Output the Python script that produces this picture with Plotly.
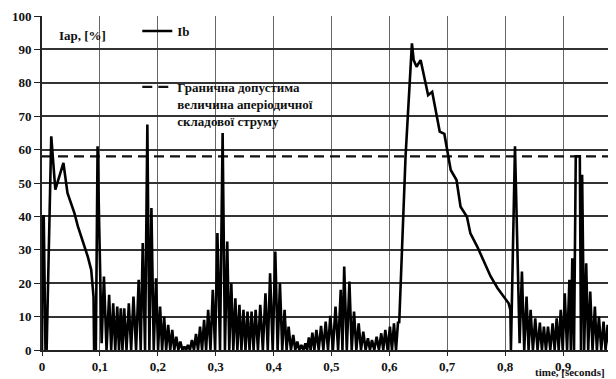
import plotly.graph_objects as go

# ---------------- data ----------------
# initial transient, 0 ... 0.103 s
segA_t = [0.000, 0.001, 0.003, 0.006, 0.008, 0.016, 0.023, 0.030, 0.037, 0.044,
          0.050, 0.056, 0.062, 0.070, 0.079, 0.085, 0.089, 0.090, 0.093, 0.096,
          0.103]
segA_v = [0, 40, 40, 0, 0, 64, 48, 52, 56, 47,
          44, 41, 37, 33, 28, 24, 16, 0, 0, 61,
          2]

# oscillating part 0.107 ... 0.615 s (peak, trough pairs)
osc1_t = [0.107, 0.1115, 0.116, 0.1195, 0.123, 0.1265, 0.130, 0.133, 0.136, 0.139,
          0.142, 0.146, 0.150, 0.154, 0.158, 0.1625, 0.167, 0.1705, 0.174, 0.178,
          0.182, 0.1855, 0.189, 0.193, 0.197, 0.2005, 0.204, 0.2075, 0.211, 0.2145,
          0.218, 0.2215, 0.225, 0.2285, 0.232, 0.2355, 0.239, 0.2425, 0.246, 0.249,
          0.252, 0.2555, 0.259, 0.2625, 0.266, 0.2695, 0.273, 0.2765, 0.280, 0.2835,
          0.287, 0.291, 0.295, 0.299, 0.303, 0.3075, 0.312, 0.316, 0.320, 0.3235,
          0.327, 0.3305, 0.334, 0.3375, 0.341, 0.3445, 0.348, 0.3515, 0.355, 0.3585,
          0.362, 0.3655, 0.369, 0.373, 0.377, 0.3815, 0.386, 0.390, 0.394, 0.3985,
          0.403, 0.407, 0.411, 0.415, 0.419, 0.4225, 0.426, 0.430, 0.434, 0.4375,
          0.441, 0.4445, 0.448, 0.4515, 0.455, 0.458, 0.461, 0.464, 0.467, 0.4705,
          0.474, 0.478, 0.482, 0.486, 0.490, 0.494, 0.498, 0.5025, 0.507, 0.5115,
          0.516, 0.519, 0.522, 0.5265, 0.531, 0.535, 0.539, 0.543, 0.547, 0.551,
          0.555, 0.559, 0.563, 0.5665, 0.570, 0.574, 0.578, 0.582, 0.586, 0.5895,
          0.593, 0.597, 0.601, 0.6045, 0.608, 0.6115, 0.615]
osc1_v = [22, 0, 16.5, 0, 14, 0, 13, 0, 12.5, 0,
          12.5, 0, 14, 0, 16, 0, 21, 0, 32, 0,
          67.5, 0, 42.5, 0, 21.5, 0, 13, 0, 10, 0,
          7.5, 0, 6, 0, 4, 0, 2.5, 0, 1, 0,
          1.5, 0, 3, 0, 4.8, 0, 7, 0, 9, 0,
          12, 0, 18, 0, 35, 0, 65, 0, 32.5, 0,
          20, 0, 15.5, 0, 13.5, 0, 12, 0, 11.5, 0,
          11.5, 0, 12, 0, 13.5, 0, 17, 0, 23, 0,
          29.5, 0, 20, 0, 12, 0, 7, 0, 4.5, 0,
          2.5, 0, 1.5, 0, 2, 0, 3.8, 0, 5.2, 0,
          6, 0, 7.2, 0, 8.5, 0, 10.2, 0, 13, 0,
          18, 0, 25, 0, 20.5, 0, 11.5, 0, 8, 0,
          5.5, 0, 3.5, 0, 3, 0, 4, 0, 5, 0,
          6, 0, 7, 0, 8, 0, 8.5]

# large aperiodic excursion 0.617 ... 0.825 s
peak_t = [0.617, 0.628, 0.639, 0.642, 0.647, 0.654, 0.660, 0.667, 0.674, 0.678,
          0.684, 0.687, 0.695, 0.700, 0.706, 0.716, 0.723, 0.734, 0.740, 0.752,
          0.764, 0.775, 0.787, 0.798, 0.806, 0.809, 0.810, 0.817, 0.825]
peak_v = [8, 58, 91.8, 86.8, 84.8, 86.8, 81.8, 76.3, 77.3, 73.9,
          67.9, 65.4, 64.7, 59.9, 53.9, 50.9, 42.9, 39.9, 34.9, 30.9,
          26, 22, 18.5, 16, 14, 12, 0, 61, 2]

# oscillating part 0.829 ... 0.991 s
osc2_t = [0.829, 0.833, 0.837, 0.8405, 0.844, 0.848, 0.852, 0.856, 0.860, 0.8635,
          0.867, 0.8705, 0.874, 0.878, 0.882, 0.8855, 0.889, 0.8925, 0.896, 0.8995,
          0.903, 0.907, 0.911, 0.9135, 0.916, 0.919, 0.922, 0.929, 0.931, 0.933,
          0.9365, 0.940, 0.9435, 0.947, 0.951, 0.955, 0.9585, 0.962, 0.966, 0.970,
          0.9735, 0.977, 0.9805, 0.984, 0.9875, 0.991]
osc2_v = [23.5, 0, 16, 0, 12, 0, 9.5, 0, 8.2, 0,
          7, 0, 7, 0, 8, 0, 9.5, 0, 12, 0,
          17, 0, 21, 0, 27.5, 0, 58, 58, 0, 52.5,
          0, 26, 0, 17.5, 0, 13, 0, 10, 0, 8.5,
          0, 7.5, 0, 6.5, 0, 5.5]

limit_t = [0.0, 0.9915]
limit_v = [58, 58]

x_tick_vals = [0, 0.1, 0.2, 0.3, 0.4, 0.5, 0.6, 0.7, 0.8, 0.9]
x_tick_text = ["0", "0,1", "0,2", "0,3", "0,4", "0,5", "0,6", "0,7", "0,8", "0,9"]
y_tick_vals = [0, 10, 20, 30, 40, 50, 60, 70, 80, 90, 100]

ib_t = segA_t + osc1_t + peak_t + osc2_t
ib_v = segA_v + osc1_v + peak_v + osc2_v

# ---------------- figure ----------------
SERIF = "Liberation Serif, Times New Roman, DejaVu Serif, serif"
INK = "#111111"

fig = go.Figure()
fig.add_trace(go.Scatter(
    x=limit_t, y=limit_v, mode="lines",
    name="Гранична допустима<br>величина аперіодичної<br>складової струму",
    line=dict(color=INK, width=2.2, dash="10px,6px"),
    legendgroup="b", legendrank=2,
))
fig.add_trace(go.Scatter(
    x=ib_t, y=ib_v, mode="lines", name="Ib",
    line=dict(color="#000000", width=2.6),
    legendgroup="a", legendrank=1,
))

# the page body adds an 8px offset; figure is sized so the plot lands on the reference pixels
fig.update_layout(
    width=608, height=371,
    margin=dict(l=34, r=0, t=8, b=29, pad=0),
    paper_bgcolor="white", plot_bgcolor="white",
    font=dict(family=SERIF, size=13, color=INK),
    showlegend=True,
    legend=dict(
        x=0.166, y=1.0, xanchor="left", yanchor="top",
        bgcolor="rgba(0,0,0,0)", borderwidth=0,
        font=dict(family=SERIF, size=13, color=INK, weight="bold"),
        traceorder="grouped", tracegroupgap=36, valign="top",
        itemwidth=30,
    ),
    xaxis=dict(
        range=[0, 0.9915], automargin=False,
        tickvals=x_tick_vals, ticktext=x_tick_text,
        showgrid=True, gridcolor="#666666", gridwidth=1,
        zeroline=False,
        showline=True, linecolor="#222222", linewidth=1.6,
        ticks="outside", ticklen=4, tickcolor="#222222", tickwidth=1.2,
        tickfont=dict(family=SERIF, size=13, color=INK, weight="bold"),
    ),
    yaxis=dict(
        range=[0, 100], automargin=False,
        tickvals=y_tick_vals,
        showgrid=True, gridcolor="#333333", gridwidth=1.5,
        zeroline=False,
        showline=True, linecolor="#222222", linewidth=1.6,
        ticks="outside", ticklen=6, tickcolor="#222222", tickwidth=1.4,
        tickfont=dict(family=SERIF, size=13, color=INK, weight="bold"),
    ),
    annotations=[
        dict(text="Iap, [%]", x=0.026, y=0.943, xref="paper", yref="paper",
             xanchor="left", yanchor="middle", showarrow=False,
             font=dict(family=SERIF, size=13, color=INK, weight="bold")),
        dict(text="time, [seconds]", x=0.984, y=-0.066, xref="paper", yref="paper",
             xanchor="right", yanchor="middle", showarrow=False,
             font=dict(family=SERIF, size=11, color=INK, weight="bold")),
    ],
)

fig.write_html("out.html")
